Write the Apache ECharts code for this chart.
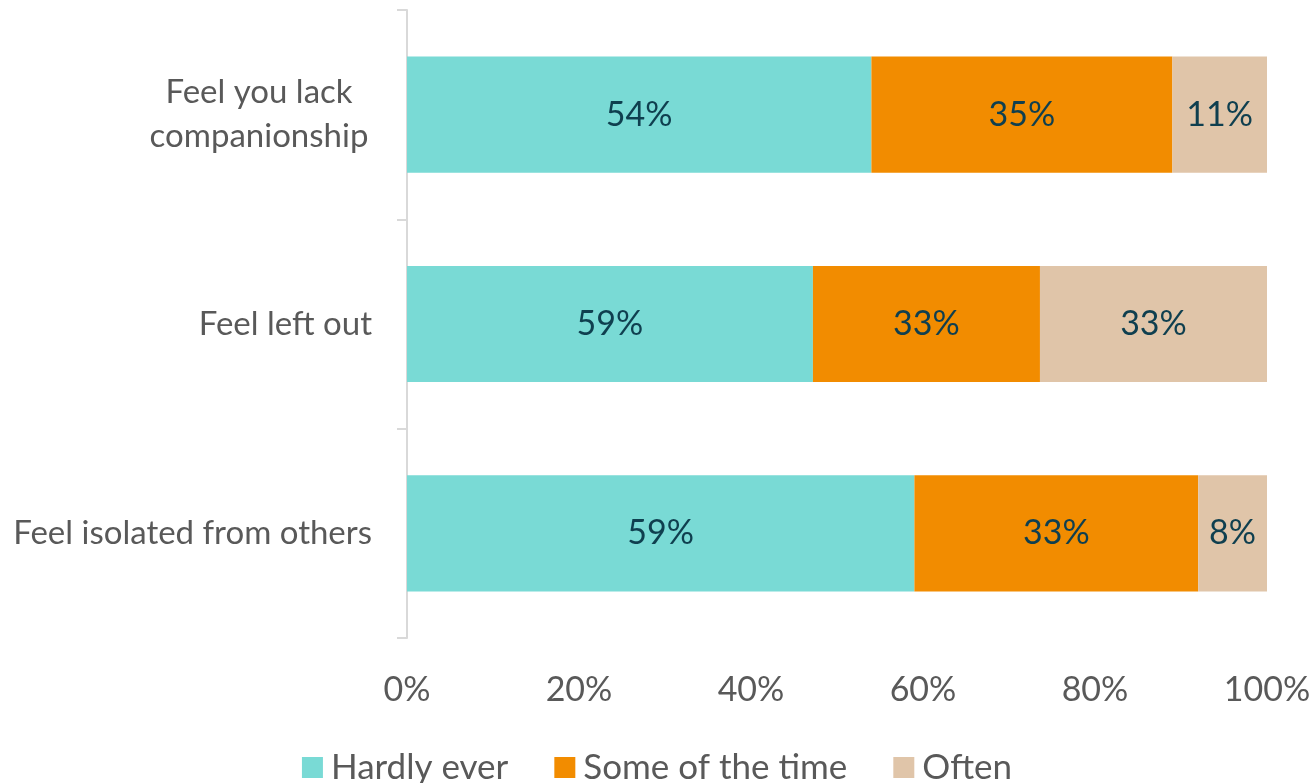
<!DOCTYPE html>
<html><head><meta charset="utf-8">
<script src="https://cdn.jsdelivr.net/npm/echarts@6/dist/echarts.min.js"></script>
<style>html,body{margin:0;padding:0;background:#fff}#c{width:1314px;height:783px}</style>
</head><body><div id="c"></div>
<script>
const categories = ['Feel you lack\ncompanionship', 'Feel left out', 'Feel isolated from others'];
const seriesNames = ['Hardly ever', 'Some of the time', 'Often'];
const hardlyEver = [54, 59, 59];
const someOfTheTime = [35, 33, 33];
const often = [11, 33, 8];
const xTicks = [0, 20, 40, 60, 80, 100];
const colors = ['#79dad5', '#f28c00', '#e0c5a9'];

const raw = [hardlyEver, someOfTheTime, often];
const totals = categories.map((_, i) => raw.reduce((s, arr) => s + arr[i], 0));
const FONT = "'Source Sans Pro', Lato, 'Noto Sans', sans-serif";

const chart = echarts.init(document.getElementById('c'));
chart.setOption({
  animation: false,
  grid: { left: 407, right: 47, top: 10, bottom: 145, containLabel: false },
  legend: {
    bottom: -7, left: 'center',
    itemWidth: 21, itemHeight: 21, itemGap: 46,
    icon: 'rect',
    textStyle: { fontFamily: FONT, fontSize: 35, color: '#595959', padding: [0, 0, 0, 3] },
    data: seriesNames
  },
  xAxis: {
    type: 'value', min: xTicks[0], max: xTicks[xTicks.length - 1], interval: xTicks[1] - xTicks[0],
    axisLine: { show: false }, axisTick: { show: false }, splitLine: { show: false },
    axisLabel: { formatter: '{value}%', fontFamily: FONT, fontSize: 34, color: '#595959', margin: 35 }
  },
  yAxis: {
    type: 'category', inverse: true, data: categories,
    axisLine: { show: true, lineStyle: { color: '#d9d9d9', width: 2 } },
    axisTick: { show: true, length: 10, lineStyle: { color: '#d9d9d9', width: 2 } },
    axisLabel: {
      fontFamily: FONT, fontSize: 33, color: '#595959', margin: 35, lineHeight: 44,
      formatter: v => v.indexOf('\n') >= 0 ? v.split('\n').map(s => '{c|' + s + '}').join('\n') : v,
      rich: { c: { align: 'center', width: 226, fontFamily: FONT, fontSize: 33, color: '#595959', lineHeight: 44 } }
    }
  },
  series: raw.map((arr, k) => ({
    name: seriesNames[k], type: 'bar', stack: 'total',
    barCategoryGap: '44.5%',
    itemStyle: { color: colors[k] },
    label: {
      show: true, position: 'inside', fontFamily: FONT, fontSize: 34, color: '#0f3f4f',
      formatter: p => arr[p.dataIndex] + '%'
    },
    data: arr.map((v, i) => v / totals[i] * 100)
  }))
});
</script></body></html>
